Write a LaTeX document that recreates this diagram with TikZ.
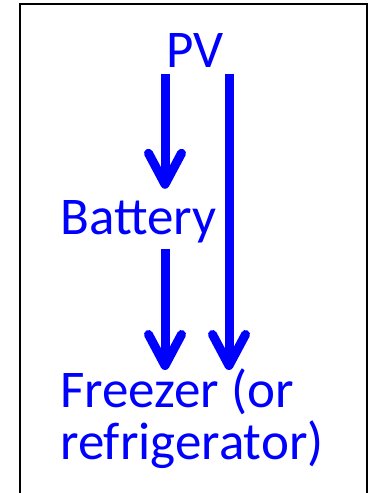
\documentclass[tikz,border=0pt]{standalone}
\usepackage{fontspec}
\setmainfont{Carlito}
\usetikzlibrary{positioning, arrows.meta}
\tikzset{
  label/.style={text=blue, inner sep=0pt, font=\fontsize{53}{52}\selectfont},
  flow/.style={draw=blue, line width=9pt,
    -{Straight Barb[length=31pt, width=33pt, round]},
    preaction={draw=black!20, transform canvas={shift={(1.5pt,-1.5pt)}}}},
  frame/.style={draw=black, line width=2.5pt}
}

\begin{document}
\begin{tikzpicture}[x=1pt, y=1pt]
      \useasboundingbox (0,0) rectangle (372,493);
      \draw[frame] (20,0) -- (20,489) -- (367,489) -- (367,0);

      \node[label, anchor=base] (pv) at (195,425) {PV};
      \node[label, anchor=base] (battery) at (138.5,258) {Battery};
      \node[label, anchor=north west, align=left] (freezer) at (60,124)
            {Freezer (or\\refrigerator)};

      \draw[flow] ([shift={(-30pt,-6pt)}]pv.south)
            -- ([shift={(26.5pt,12pt)}]battery.north);
      \draw[flow] ([shift={(26.5pt,-5pt)}]battery.south)
            -- ([shift={(105pt,-1pt)}]freezer.north west);
      \draw[flow] ([shift={(34pt,-6pt)}]pv.south)
            -- ([shift={(169pt,-1pt)}]freezer.north west);
    \end{tikzpicture}
\end{document}
